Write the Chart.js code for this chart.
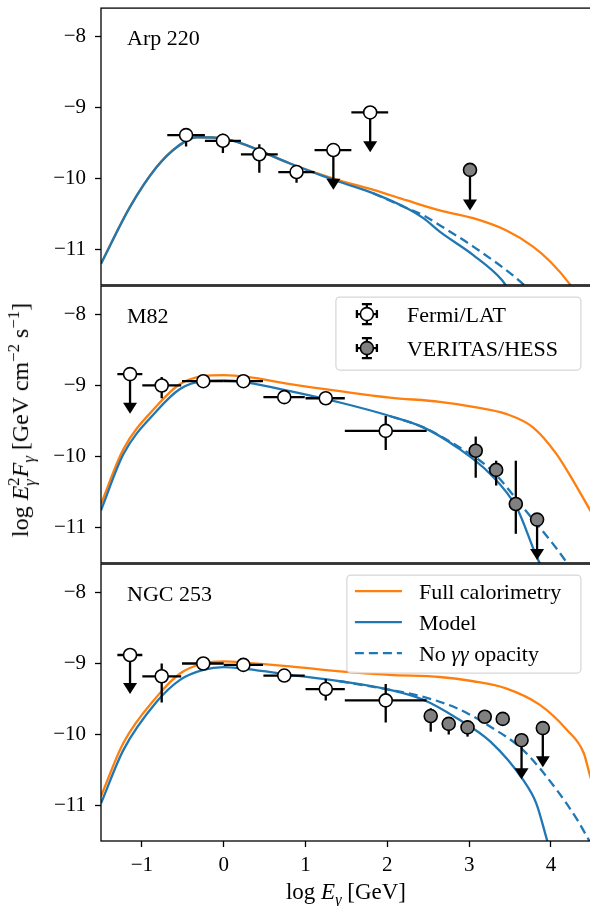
<!DOCTYPE html>
<html>
<head>
<meta charset="utf-8">
<script src="https://cdn.jsdelivr.net/npm/chart.js@4.4.0/dist/chart.umd.min.js"></script>
<style>
    body { margin: 0; background: #fff; overflow: hidden; }
    #wrap { position: relative; width: 590px; height: 906px; overflow: hidden; background: #fff; }
    canvas { position: absolute; left: 0; }
    .lab { position: absolute; font-family: 'Liberation Serif', 'Times New Roman', serif; font-size: 23px; color: #000; white-space: nowrap; }
    .lab sub, .lab sup { font-size: 0.7em; line-height: 0; }
    .ss { display: inline-block; vertical-align: -0.4em; font-size: 0.7em; line-height: 0.95; }
    .ss span { display: block; }
    #xlab { left: 346px; top: 892px; transform: translate(-50%, -50%); }
    #ylab { left: 22px; top: 420px; font-size: 24px; transform: translate(-50%, -50%) rotate(-90deg); }
</style>
</head>
<body>
<div id="wrap">
    <canvas id="c1" width="593" height="286" style="top:0px"></canvas>
    <canvas id="c2" width="593" height="286" style="top:278px"></canvas>
    <canvas id="c3" width="593" height="350" style="top:556px"></canvas>
    <div class="lab" id="xlab">log <i>E</i><sub><i>γ</i></sub> [GeV]</div>
    <div class="lab" id="ylab">log <i>E</i><span class="ss"><span>2</span><span><i>γ</i></span></span><i>F</i><sub><i>γ</i></sub> [GeV cm<sup>−2</sup> s<sup>−1</sup>]</div>
</div>
<script>
var xTicks = [-1, 0, 1, 2, 3, 4]
var yTicks = [-11, -10, -9, -8]
var panelNames = ["Arp 220", "M82", "NGC 253"]

// ---- Arp 220 ----
var arpCalX = [-1.5, -1.145, -0.82, -0.575, -0.33, 0, 0.2, 0.81, 1.2, 1.42, 1.83, 2.24, 2.64, 3.05, 3.45, 3.78, 3.99, 4.23, 4.32]
var arpCalY = [-11.2, -10.4, -9.84, -9.56, -9.42, -9.44, -9.5, -9.79, -9.95, -10.03, -10.16, -10.31, -10.45, -10.56, -10.73, -10.96, -11.17, -11.49, -11.65]
var arpModX = [-1.5, -1.145, -0.82, -0.575, -0.33, 0, 0.2, 0.81, 1.2, 1.42, 1.83, 2.24, 2.44, 2.64, 3.05, 3.4, 3.5]
var arpModY = [-11.2, -10.4, -9.84, -9.56, -9.42, -9.44, -9.5, -9.79, -9.96, -10.05, -10.21, -10.42, -10.56, -10.75, -11.08, -11.43, -11.6]
var arpNoggX = [1.83, 2.24, 2.44, 2.64, 3.05, 3.66, 3.75]
var arpNoggY = [-10.21, -10.42, -10.52, -10.66, -10.96, -11.49, -11.6]
var arpFermiX = [-0.46, -0.01, 0.435, 0.89, 1.34, 1.79]
var arpFermiY = [-9.39, -9.47, -9.66, -9.91, -9.6, -9.07]
var arpFermiXLo = [-0.69, -0.23, 0.21, 0.667, 1.11, 1.56]
var arpFermiXHi = [-0.23, 0.21, 0.66, 1.11, 1.56, 2.01]
var arpFermiYLo = [-9.55, -9.64, -9.92, -10.06, -10.16, -9.63]
var arpFermiYHi = [-9.3, -9.37, -9.52, -9.84, -9.6, -9.07]
var arpFermiUL = [0, 0, 0, 0, 1, 1]
var arpVerX = [3.01]
var arpVerY = [-9.88]
var arpVerXLo = [3.01]
var arpVerXHi = [3.01]
var arpVerYLo = [-10.45]
var arpVerYHi = [-9.88]
var arpVerUL = [1]

// ---- M82 ----
var m82CalX = [-1.5, -1.227, -0.82, -0.534, -0.25, 0, 0.29, 0.81, 1.42, 2.03, 2.64, 3.05, 3.45, 3.78, 4.07, 4.27, 4.48, 4.6]
var m82CalY = [-10.67, -9.9, -9.29, -8.98, -8.87, -8.855, -8.88, -8.98, -9.08, -9.17, -9.23, -9.3, -9.4, -9.59, -9.97, -10.34, -10.76, -11.0]
var m82ModX = [-1.5, -1.227, -0.82, -0.534, -0.25, 0, 0.29, 0.81, 1.42, 2.03, 2.44, 2.85, 3.26, 3.58, 3.81, 3.9]
var m82ModY = [-10.76, -9.97, -9.36, -9.05, -8.94, -8.93, -8.96, -9.08, -9.24, -9.43, -9.59, -9.87, -10.25, -10.72, -11.37, -11.6]
var m82NoggX = [2.03, 2.44, 2.85, 3.26, 3.66, 4.19, 4.25]
var m82NoggY = [-9.43, -9.59, -9.85, -10.18, -10.72, -11.49, -11.6]
var m82FermiX = [-1.145, -0.758, -0.25, 0.24, 0.74, 1.247, 1.98]
var m82FermiY = [-8.84, -9.0, -8.94, -8.94, -9.165, -9.18, -9.64]
var m82FermiXLo = [-1.3, -0.995, -0.51, 0, 0.485, 1.0, 1.48]
var m82FermiXHi = [-0.995, -0.52, 0, 0.48, 0.99, 1.48, 2.48]
var m82FermiYLo = [-9.4, -9.18, -8.97, -8.97, -9.2, -9.21, -9.91]
var m82FermiYHi = [-8.84, -8.88, -8.91, -8.91, -9.13, -9.15, -9.43]
var m82FermiUL = [1, 0, 0, 0, 0, 0, 0]
var m82VerX = [3.08, 3.33, 3.57, 3.83]
var m82VerY = [-9.92, -10.19, -10.67, -10.89]
var m82VerXLo = [3.08, 3.33, 3.57, 3.83]
var m82VerXHi = [3.08, 3.33, 3.57, 3.83]
var m82VerYLo = [-10.3, -10.41, -11.09, -11.46]
var m82VerYHi = [-9.72, -10.06, -10.06, -10.89]
var m82VerUL = [0, 0, 0, 1]

// ---- NGC 253 ----
var ngcCalX = [-1.5, -1.227, -0.82, -0.534, -0.25, 0, 0.29, 0.81, 1.42, 2.03, 2.64, 3.05, 3.45, 3.86, 4.19, 4.4, 4.48, 4.6]
var ngcCalY = [-10.87, -10.12, -9.47, -9.14, -9.0, -8.97, -8.99, -9.04, -9.11, -9.16, -9.19, -9.25, -9.35, -9.58, -9.93, -10.26, -10.59, -11.0]
var ngcModX = [-1.5, -1.227, -0.82, -0.534, -0.25, 0, 0.29, 0.81, 1.42, 2.03, 2.44, 2.85, 3.26, 3.66, 3.82, 3.95, 3.98]
var ngcModY = [-10.97, -10.22, -9.54, -9.23, -9.09, -9.05, -9.08, -9.16, -9.25, -9.37, -9.51, -9.77, -10.1, -10.64, -10.97, -11.48, -11.6]
var ngcNoggX = [1.42, 2.03, 2.44, 2.85, 3.26, 3.66, 4.07, 4.32, 4.46, 4.52]
var ngcNoggY = [-9.25, -9.37, -9.47, -9.63, -9.89, -10.22, -10.78, -11.2, -11.48, -11.6]
var ngcFermiX = [-1.145, -0.758, -0.25, 0.24, 0.74, 1.247, 1.98]
var ngcFermiY = [-8.88, -9.18, -9.0, -9.02, -9.17, -9.36, -9.52]
var ngcFermiXLo = [-1.3, -0.995, -0.51, 0, 0.485, 1.0, 1.48]
var ngcFermiXHi = [-0.995, -0.52, 0, 0.48, 0.99, 1.48, 2.48]
var ngcFermiYLo = [-9.43, -9.55, -9.03, -9.05, -9.2, -9.52, -9.83]
var ngcFermiYHi = [-8.88, -9.0, -8.97, -8.99, -9.14, -9.22, -9.29]
var ngcFermiUL = [1, 0, 0, 0, 0, 0, 0]
var ngcVerX = [2.53, 2.75, 2.98, 3.19, 3.41, 3.64, 3.9]
var ngcVerY = [-9.74, -9.85, -9.9, -9.75, -9.78, -10.08, -9.91]
var ngcVerXLo = [2.53, 2.75, 2.98, 3.19, 3.41, 3.57, 3.83]
var ngcVerXHi = [2.53, 2.75, 2.98, 3.19, 3.41, 3.71, 3.97]
var ngcVerYLo = [-9.96, -10.0, -10.03, -9.8, -9.83, -10.63, -10.46]
var ngcVerYHi = [-9.63, -9.77, -9.8, -9.7, -9.72, -10.08, -9.91]
var ngcVerUL = [0, 0, 0, 0, 0, 1, 1]

var FONT = "'Liberation Serif', 'Times New Roman', serif"
var ORANGE = "#ff7f0e"
var BLUE = "#1f77b4"
var GREY = "#808080"

function pts(xs, ys) {
    return xs.map(function (x, i) { return { x: x, y: ys[i] } })
}
function tickFmt(v) {
    return (v < 0 ? "\u2212" : "") + Math.abs(v)
}

// error bars + upper limit arrows, drawn right before the markers of the same dataset
var errorBars = {
    id: "errorBars",
    beforeDatasetDraw: function (chart, args) {
        var ds = chart.data.datasets[args.index]
        if (!ds.err) return
        var e = ds.err
        var sx = chart.scales.x, sy = chart.scales.y, c = chart.ctx
        c.save()
        c.strokeStyle = "#000"
        c.fillStyle = "#000"
        c.lineWidth = 2.3
        e.x.forEach(function (x, i) {
            var px = sx.getPixelForValue(x)
            var py = sy.getPixelForValue(e.y[i])
            var top = sy.getPixelForValue(e.yhi[i])
            var bot = sy.getPixelForValue(e.ylo[i])
            c.beginPath()
            if (e.xlo[i] !== e.xhi[i]) {
                c.moveTo(sx.getPixelForValue(e.xlo[i]), py)
                c.lineTo(sx.getPixelForValue(e.xhi[i]), py)
            }
            if (e.ul[i]) {
                c.moveTo(px, py)
                c.lineTo(px, bot - 10)
                c.stroke()
                c.beginPath()
                c.moveTo(px - 7, bot - 11)
                c.lineTo(px + 7, bot - 11)
                c.lineTo(px, bot)
                c.closePath()
                c.fill()
            } else {
                c.moveTo(px, top)
                c.lineTo(px, bot)
                c.stroke()
            }
        })
        c.restore()
    }
}

function roundBox(c, x, y, w, h, r) {
    c.beginPath()
    c.moveTo(x + r, y)
    c.lineTo(x + w - r, y)
    c.arcTo(x + w, y, x + w, y + r, r)
    c.lineTo(x + w, y + h - r)
    c.arcTo(x + w, y + h, x + w - r, y + h, r)
    c.lineTo(x + r, y + h)
    c.arcTo(x, y + h, x, y + h - r, r)
    c.lineTo(x, y + r)
    c.arcTo(x, y, x + r, y, r)
    c.closePath()
}

function errHandle(c, x, y, fill) {
    c.strokeStyle = "#000"
    c.lineWidth = 2.3
    c.beginPath()
    c.moveTo(x - 10, y); c.lineTo(x + 10, y)
    c.moveTo(x, y - 10); c.lineTo(x, y + 10)
    c.moveTo(x - 10, y - 4); c.lineTo(x - 10, y + 4)
    c.moveTo(x + 10, y - 4); c.lineTo(x + 10, y + 4)
    c.moveTo(x - 5, y - 10); c.lineTo(x + 5, y - 10)
    c.moveTo(x - 5, y + 10); c.lineTo(x + 5, y + 10)
    c.stroke()
    c.beginPath()
    c.arc(x, y, 6.5, 0, Math.PI * 2)
    c.fillStyle = fill
    c.fill()
    c.lineWidth = 1.6
    c.stroke()
}

// frame, panel name and the legends
var decor = {
    id: "decor",
    afterDraw: function (chart, args, opts) {
        var c = chart.ctx, a = chart.chartArea
        c.save()
        c.fillStyle = "#000"
        c.font = "22px " + FONT
        c.textBaseline = "alphabetic"
        c.fillText(opts.name, a.left + 26, a.top + 37)

        if (opts.legend == "points") {
            var bx = a.right - 256, by = a.top + 11
            roundBox(c, bx, by, 245, 73, 4)
            c.fillStyle = "rgba(255,255,255,0.8)"
            c.fill()
            c.strokeStyle = "rgba(204,204,204,0.8)"
            c.lineWidth = 1.2
            c.stroke()
            errHandle(c, bx + 31, by + 17, "#fff")
            errHandle(c, bx + 31, by + 51, GREY)
            c.fillStyle = "#000"
            c.fillText("Fermi/LAT", bx + 71, by + 25)
            c.fillText("VERITAS/HESS", bx + 71, by + 59)
        }
        if (opts.legend == "lines") {
            var lx = a.right - 245, ly = a.top + 11
            roundBox(c, lx, ly, 234, 98, 4)
            c.fillStyle = "rgba(255,255,255,0.8)"
            c.fill()
            c.strokeStyle = "rgba(204,204,204,0.8)"
            c.lineWidth = 1.2
            c.stroke()
            var rows = [[ORANGE, []], [BLUE, []], [BLUE, [9, 5]]]
            rows.forEach(function (r, i) {
                var yy = ly + 16 + i * 31
                c.strokeStyle = r[0]
                c.lineWidth = 2.3
                c.setLineDash(r[1])
                c.beginPath()
                c.moveTo(lx + 8, yy)
                c.lineTo(lx + 55, yy)
                c.stroke()
            })
            c.setLineDash([])
            c.fillStyle = "#000"
            c.fillText("Full calorimetry", lx + 72, ly + 24)
            c.fillText("Model", lx + 72, ly + 55)
            var tx = lx + 72, ty = ly + 86
            c.fillText("No ", tx, ty)
            tx += c.measureText("No ").width
            c.font = "italic 22px " + FONT
            c.fillText("\u03b3\u03b3", tx, ty)
            tx += c.measureText("\u03b3\u03b3").width
            c.font = "22px " + FONT
            c.fillText(" opacity", tx, ty)
        }

        c.strokeStyle = "#000"
        c.lineWidth = 1.3
        c.strokeRect(a.left, a.top, a.right - a.left, a.bottom - a.top)
        c.restore()
    }
}

function makePanel(id, name, d, legend, showX) {
    var curveBase = { showLine: true, pointRadius: 0, borderWidth: 2.3, fill: false, cubicInterpolationMode: "monotone", clip: 0 }
    var datasets = [
        {
            label: "Fermi/LAT", data: pts(d.fx, d.fy), order: 0,
            pointRadius: 6.5, pointBorderWidth: 1.6, pointBackgroundColor: "#fff", pointBorderColor: "#000",
            err: { x: d.fx, y: d.fy, xlo: d.fxl, xhi: d.fxh, ylo: d.fyl, yhi: d.fyh, ul: d.ful }
        },
        {
            label: "VERITAS/HESS", data: pts(d.vx, d.vy), order: 1,
            pointRadius: 6.5, pointBorderWidth: 1.6, pointBackgroundColor: GREY, pointBorderColor: "#000",
            err: { x: d.vx, y: d.vy, xlo: d.vxl, xhi: d.vxh, ylo: d.vyl, yhi: d.vyh, ul: d.vul }
        },
        Object.assign({ label: "No gg", data: pts(d.nx, d.ny), order: 2, borderColor: BLUE, borderDash: [9, 5] }, curveBase),
        Object.assign({ label: "Model", data: pts(d.mx, d.my), order: 3, borderColor: BLUE }, curveBase),
        Object.assign({ label: "Full calorimetry", data: pts(d.cx, d.cy), order: 4, borderColor: ORANGE }, curveBase)
    ]
    var chart = new Chart(document.getElementById(id), {
        type: "scatter",
        data: { datasets: datasets },
        options: {
            responsive: false,
            maintainAspectRatio: false,
            animation: false,
            events: [],
            layout: { padding: { top: 7, bottom: showX ? 0 : 1, left: 0, right: 1 } },
            plugins: {
                legend: { display: false },
                tooltip: { enabled: false },
                decor: { name: name, legend: legend }
            },
            scales: {
                x: {
                    type: "linear", min: -1.5, max: 4.5, display: showX,
                    afterBuildTicks: function (s) { s.ticks = xTicks.map(function (v) { return { value: v } }) },
                    afterFit: function (s) {
                        if (showX) s.height = 65
                        s.paddingLeft = 0
                        s.paddingRight = 0
                    },
                    grid: { drawOnChartArea: false, drawTicks: true, tickLength: 6, tickColor: "#000", tickWidth: 1.3 },
                    border: { display: false },
                    ticks: { color: "#000", font: { family: FONT, size: 21 }, padding: 6, maxRotation: 0, autoSkip: false, callback: tickFmt }
                },
                y: {
                    type: "linear", min: -11.5, max: -7.6,
                    afterBuildTicks: function (s) { s.ticks = yTicks.map(function (v) { return { value: v } }) },
                    afterFit: function (s) {
                        s.width = 101
                        s.paddingTop = 0
                        s.paddingBottom = 0
                    },
                    grid: { drawOnChartArea: false, drawTicks: true, tickLength: 6, tickColor: "#000", tickWidth: 1.3 },
                    border: { display: false },
                    ticks: { color: "#000", font: { family: FONT, size: 21 }, padding: 9, autoSkip: false, callback: tickFmt }
                }
            }
        },
        plugins: [errorBars, decor]
    })
    // the layout eats a few extra pixels on the right/bottom; grow the canvas so the
    // plot box lands at x 101..592 and y 7..285 inside each canvas (overflow is clipped)
    for (var k = 0; k < 2; k++) {
        var a = chart.chartArea
        var dw = Math.round(592 - a.right), dh = Math.round(285 - a.bottom)
        if (dw === 0 && dh === 0) break
        chart.resize(chart.width + dw, chart.height + dh)
    }
    return chart
}

makePanel("c1", panelNames[0], {
    cx: arpCalX, cy: arpCalY, mx: arpModX, my: arpModY, nx: arpNoggX, ny: arpNoggY,
    fx: arpFermiX, fy: arpFermiY, fxl: arpFermiXLo, fxh: arpFermiXHi, fyl: arpFermiYLo, fyh: arpFermiYHi, ful: arpFermiUL,
    vx: arpVerX, vy: arpVerY, vxl: arpVerXLo, vxh: arpVerXHi, vyl: arpVerYLo, vyh: arpVerYHi, vul: arpVerUL
}, null, false)
makePanel("c2", panelNames[1], {
    cx: m82CalX, cy: m82CalY, mx: m82ModX, my: m82ModY, nx: m82NoggX, ny: m82NoggY,
    fx: m82FermiX, fy: m82FermiY, fxl: m82FermiXLo, fxh: m82FermiXHi, fyl: m82FermiYLo, fyh: m82FermiYHi, ful: m82FermiUL,
    vx: m82VerX, vy: m82VerY, vxl: m82VerXLo, vxh: m82VerXHi, vyl: m82VerYLo, vyh: m82VerYHi, vul: m82VerUL
}, "points", false)
makePanel("c3", panelNames[2], {
    cx: ngcCalX, cy: ngcCalY, mx: ngcModX, my: ngcModY, nx: ngcNoggX, ny: ngcNoggY,
    fx: ngcFermiX, fy: ngcFermiY, fxl: ngcFermiXLo, fxh: ngcFermiXHi, fyl: ngcFermiYLo, fyh: ngcFermiYHi, ful: ngcFermiUL,
    vx: ngcVerX, vy: ngcVerY, vxl: ngcVerXLo, vxh: ngcVerXHi, vyl: ngcVerYLo, vyh: ngcVerYHi, vul: ngcVerUL
}, "lines", true)
</script>
</body>
</html>
